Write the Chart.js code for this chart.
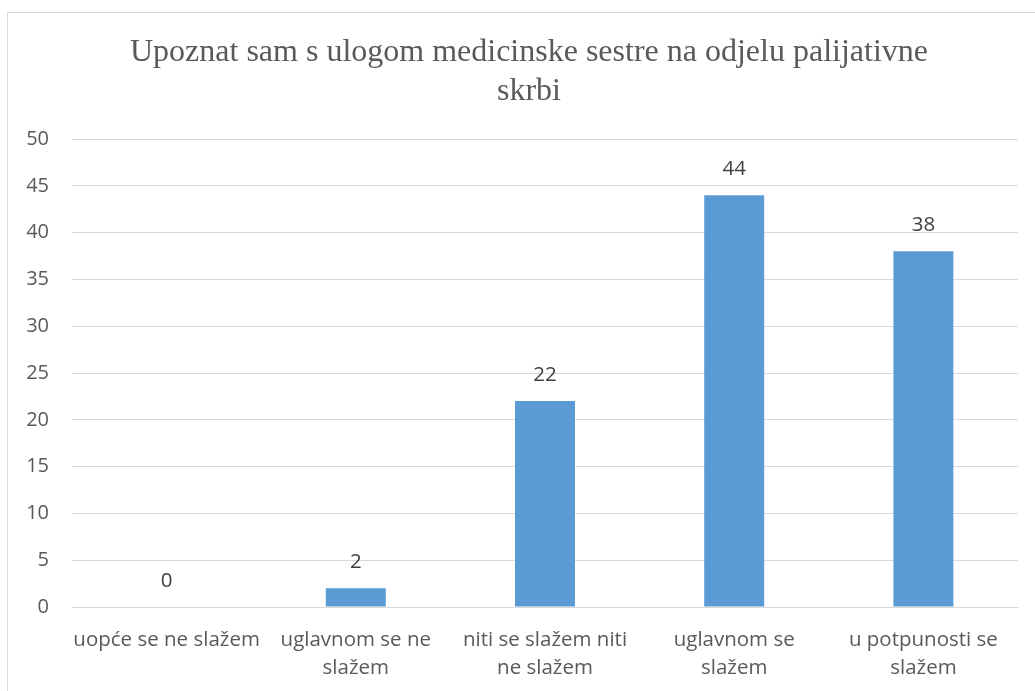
<!DOCTYPE html>
<html>
<head>
<meta charset="utf-8">
<script src="https://cdn.jsdelivr.net/npm/chart.js@4.4.1/dist/chart.umd.min.js"></script>
<style>
  html, body { margin: 0; padding: 0; background: #fff; overflow: hidden; }
  .frame {
    position: absolute; left: 7px; top: 12px;
    width: 1060px; height: 700px;
    border: 1px solid #d9d9d9; box-sizing: border-box;
  }
  .frame canvas { position: absolute; left: 0; top: 0; }
</style>
</head>
<body>
<div class="frame">
  <canvas id="chart" width="1035" height="678" style="width:1035px;height:678px"></canvas>
</div>
<script>
// Survey answers for the palliative care nurse role question
const categories = [
  'uopće se ne slažem',
  ['uglavnom se ne', 'slažem'],
  ['niti se slažem niti', 'ne slažem'],
  ['uglavnom se', 'slažem'],
  ['u potpunosti se', 'slažem'],
];
const counts = [0, 2, 22, 44, 38];
const yTicks = [0, 5, 10, 15, 20, 25, 30, 35, 40, 45, 50];
const titleLines = ['Upoznat sam s ulogom medicinske sestre na odjelu palijativne', 'skrbi'];

const TEXT = '#595959';
const GRID = '#d9d9d9';
const SANS = '"Open Sans", sans-serif';

// title is drawn by hand: it is centred on the whole chart box, not the padded area
const chartTitle = {
  id: 'chartTitle',
  afterDraw(chart) {
    const { ctx } = chart;
    ctx.save();
    ctx.font = '32px "Liberation Serif", "Times New Roman", serif';
    ctx.fillStyle = TEXT;
    ctx.textAlign = 'center';
    ctx.textBaseline = 'alphabetic';
    titleLines.forEach((line, i) => ctx.fillText(line, 521, 48 + i * 39));
    ctx.restore();
  }
};

// values above bars (no datalabels plugin available)
const valueLabels = {
  id: 'valueLabels',
  afterDatasetsDraw(chart) {
    const { ctx } = chart;
    const meta = chart.getDatasetMeta(0);
    ctx.save();
    ctx.font = '20.5px ' + SANS;
    ctx.fillStyle = '#404040';
    ctx.textAlign = 'center';
    ctx.textBaseline = 'middle';
    meta.data.forEach((bar, i) => {
      ctx.fillText(String(counts[i]), bar.x, bar.y - 26);
    });
    ctx.restore();
  }
};

new Chart(document.getElementById('chart'), {
  type: 'bar',
  data: {
    labels: categories,
    datasets: [{
      data: counts,
      backgroundColor: '#5b9bd5',
      borderWidth: 0,
      categoryPercentage: 1,
      barPercentage: 0.317,
    }],
  },
  options: {
    responsive: false,
    animation: false,
    layout: { padding: { left: 0, right: 25, top: 126, bottom: 0 } },
    plugins: {
      legend: { display: false },
      tooltip: { enabled: false },
      title: { display: false },
    },
    scales: {
      y: {
        min: 0,
        max: 50,
        afterBuildTicks: axis => { axis.ticks = yTicks.map(v => ({ value: v })); },
        afterFit: axis => { axis.width = 64; },
        ticks: {
          color: TEXT,
          padding: 23,
          font: { family: SANS, size: 20 },
        },
        grid: { color: GRID, lineWidth: 1, drawTicks: false },
        border: { display: false },
      },
      x: {
        afterFit: axis => { axis.height = 84; },
        ticks: {
          color: TEXT,
          padding: 19,
          maxRotation: 0,
          autoSkip: false,
          font: { family: SANS, size: 20.5, lineHeight: 1.37 },
        },
        grid: { display: false, drawTicks: false },
        border: { color: GRID, width: 1 },
      },
    },
  },
  plugins: [valueLabels, chartTitle],
});
</script>
</body>
</html>
